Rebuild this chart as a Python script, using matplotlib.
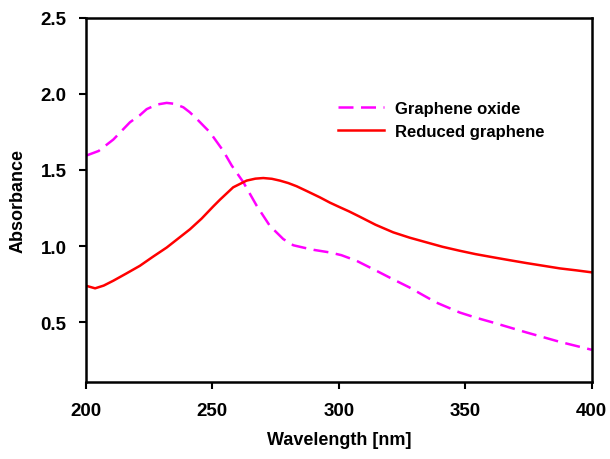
import matplotlib
matplotlib.use("Agg")
import matplotlib.pyplot as plt

plt.rcParams['font.family'] = ['Liberation Sans', 'DejaVu Sans']
plt.rcParams['font.weight'] = 'bold'

go_x = [200, 205, 210.8, 217.4, 221.3, 224, 228, 231.9, 235, 238.5, 241, 243.8, 246.5, 249, 251.5,
        254.3, 257.6, 262.2, 267.5, 272.7, 278, 282, 285.9, 290, 296.4, 301, 307, 314.9, 321,
        327.9, 333, 338.5, 347.8, 354, 361, 374.2, 387.4, 400]
go_y = [1.594, 1.625, 1.70, 1.814, 1.86, 1.90, 1.93, 1.941, 1.935, 1.912, 1.88, 1.836, 1.79, 1.748, 1.69,
        1.625, 1.53, 1.42, 1.265, 1.133, 1.046, 1.005, 0.99, 0.975, 0.958, 0.94, 0.903, 0.837, 0.785,
        0.728, 0.68, 0.629, 0.563, 0.53, 0.497, 0.432, 0.37, 0.318]

rg_x = [200, 203.6, 207, 210.8, 216, 221.3, 226.5, 231.9, 236.5, 241.1, 245.7, 250.3, 253, 258.2,
        263.5, 267, 270.1, 273.5, 276.7, 280, 283.3, 287.5, 292.5, 296.5, 300.4, 304, 308, 314.5,
        321.5, 328, 334.7, 341, 347.8, 354, 361, 367.5, 374.2, 381, 387.4, 394, 400]
rg_y = [0.739, 0.722, 0.74, 0.772, 0.82, 0.87, 0.93, 0.99, 1.05, 1.11, 1.18, 1.26, 1.305, 1.386,
        1.43, 1.443, 1.447, 1.442, 1.43, 1.414, 1.393, 1.36, 1.32, 1.285, 1.255, 1.228, 1.195, 1.14,
        1.09, 1.055, 1.024, 0.995, 0.969, 0.947, 0.926, 0.907, 0.888, 0.87, 0.853, 0.84, 0.827]

fig = plt.figure(figsize=(6.1, 4.6), dpi=100)
ax = fig.add_axes([0.141, 0.167, 0.829, 0.792])

ax.plot(go_x, go_y, color='#ff00ff', lw=1.8, ls=(0, (6, 3)), label='Graphene oxide')
ax.plot(rg_x, rg_y, color='#ff0000', lw=1.8, label='Reduced graphene')

ax.set_xlim(200, 400)
ax.set_ylim(0.105, 2.5)
ax.set_xticks([200, 250, 300, 350, 400])
ax.set_yticks([0.5, 1.0, 1.5, 2.0, 2.5])
ax.set_yticklabels(['0.5', '1.0', '1.5', '2.0', '2.5'])
ax.tick_params(direction='out', length=5, width=1.5, labelsize=13.5, pad=9)
for lab in ax.get_xticklabels() + ax.get_yticklabels():
    lab.set_fontweight('bold')
for s in ax.spines.values():
    s.set_linewidth(1.8)

ax.set_xlabel('Wavelength [nm]', fontsize=13, fontweight='bold', labelpad=9)
ax.set_ylabel('Absorbance', fontsize=13, fontweight='bold', labelpad=10)

leg = ax.legend(loc='upper left', bbox_to_anchor=(0.475, 0.803), frameon=False,
                fontsize=12, handlelength=2.75, handletextpad=0.7, labelspacing=0.45,
                borderpad=0.2)
for t in leg.get_texts():
    t.set_fontweight('bold')

fig.savefig('out.png', dpi=100)
